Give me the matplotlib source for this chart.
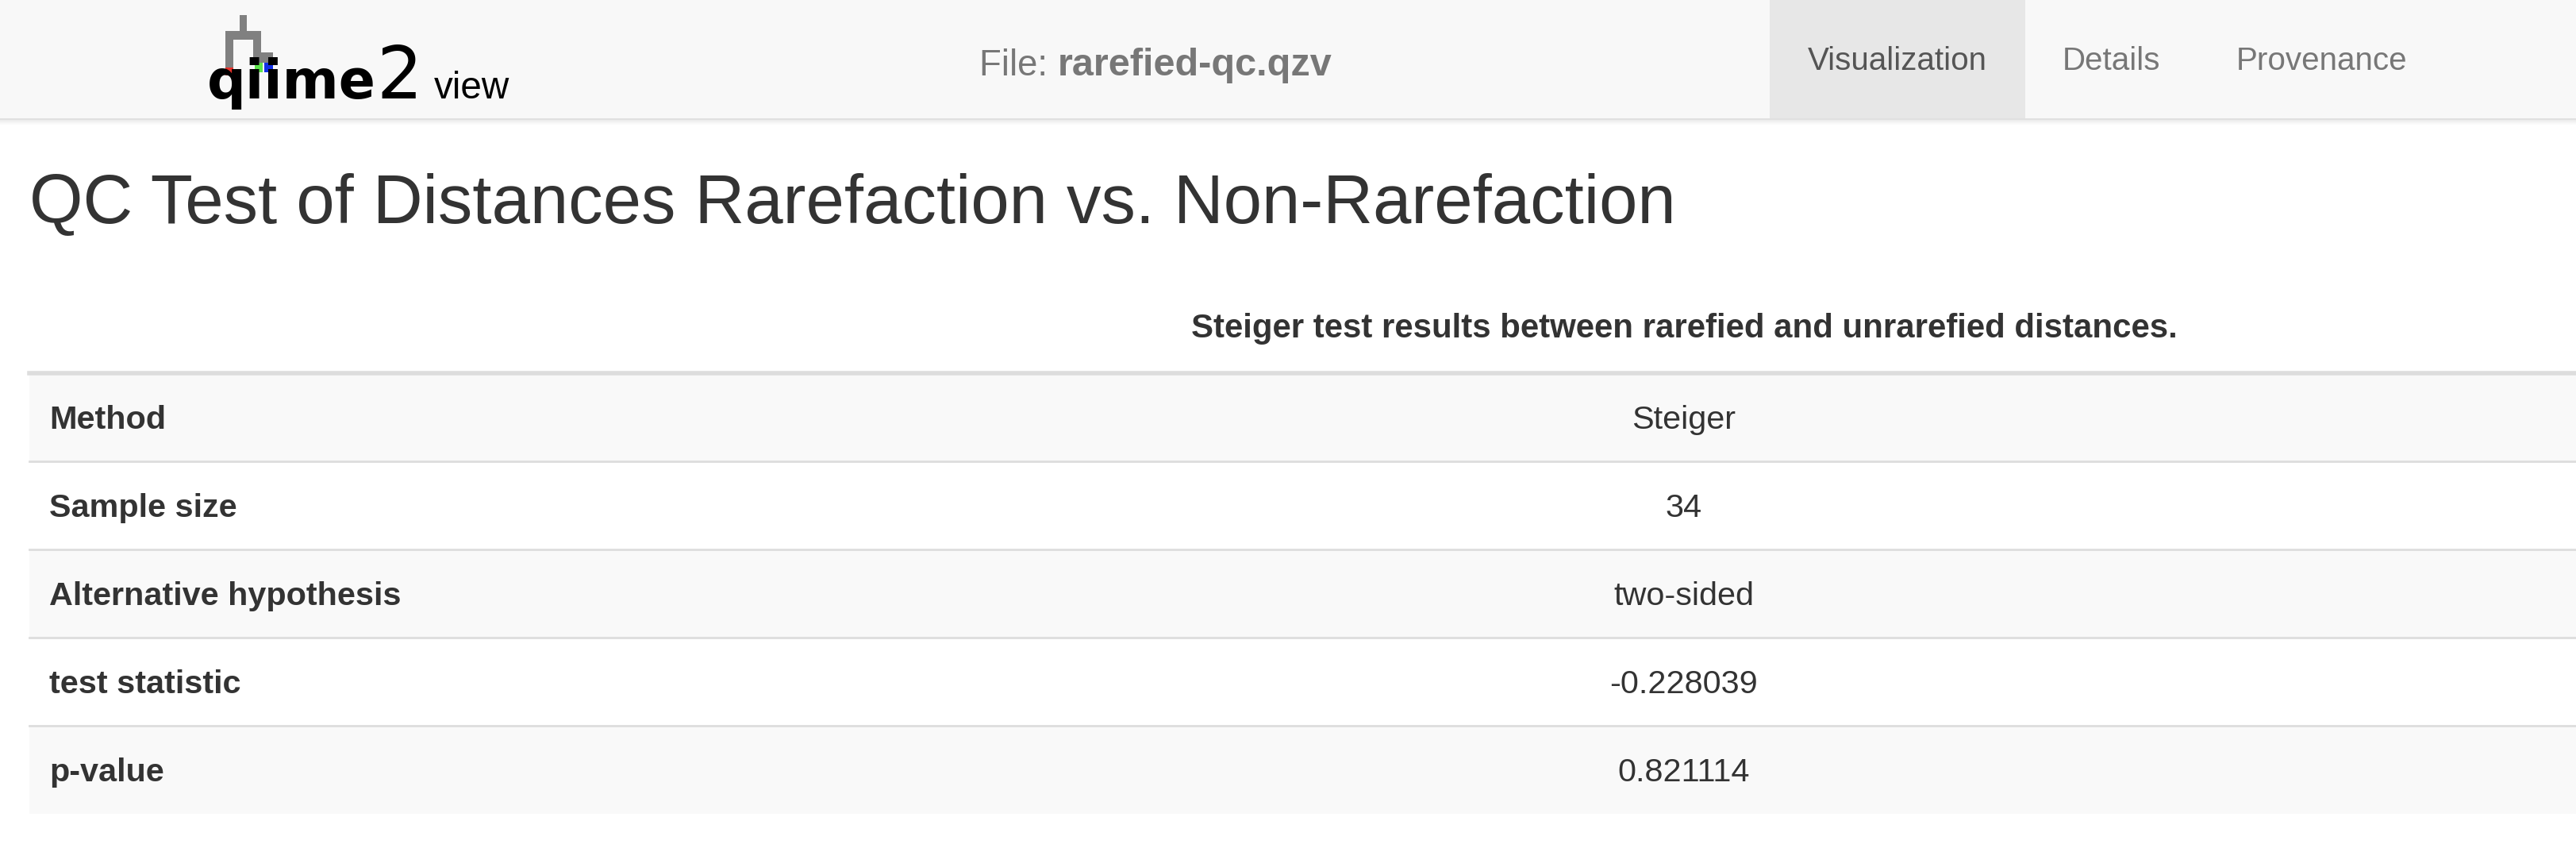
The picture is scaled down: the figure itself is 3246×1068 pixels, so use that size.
import matplotlib
matplotlib.use("Agg")
import matplotlib.pyplot as plt
from matplotlib.patches import Rectangle

plt.rcParams['font.family'] = ['Liberation Sans', 'DejaVu Sans']

title = "QC Test of Distances Rarefaction vs. Non-Rarefaction"
caption = "Steiger test results between rarefied and unrarefied distances."
row_labels = ["Method", "Sample size", "Alternative hypothesis", "test statistic", "p-value"]
row_values = ["Steiger", "34", "two-sided", "-0.228039", "0.821114"]
tabs = ["Visualization", "Details", "Provenance"]
file_name = "rarefied-qc.qzv"

W, H = 1568, 516
S = 3246 / W
def pt(d):  # displayed px -> points at dpi 100
    return d * S * 0.72

fig = plt.figure(figsize=(32.46, 10.68), dpi=100)
ax = fig.add_axes([0, 0, 1, 1])
ax.set_xlim(0, W); ax.set_ylim(H, 0); ax.axis('off')
fig.patch.set_facecolor('white')

# header
for i, a in enumerate([0.12, 0.07, 0.04, 0.02]):
    ax.add_patch(Rectangle((0, 72 + i), W, 1, color='black', alpha=a, lw=0))
ax.add_patch(Rectangle((0, 0), W, 72, color='#f8f8f8', lw=0))
ax.add_patch(Rectangle((1077, 0), 156, 72, color='#e7e7e7', lw=0))
tab_x = [1155, 1285, 1413]
for t, x in zip(tabs, tab_x):
    ax.text(x, 37, t, ha='center', va='center', fontsize=pt(19.5),
            color='#555555' if t == 'Visualization' else '#777777')
ax.text(596, 40, "File: ", ha='left', va='center', fontsize=pt(22), color='#777777')
ax.text(644, 40, file_name, ha='left', va='center', fontsize=pt(23.5), color='#777777', fontweight='bold')

# logo
g = '#808080'
ax.add_patch(Rectangle((146, 9), 4, 12, color=g, lw=0))
ax.add_patch(Rectangle((137, 19), 22, 5, color=g, lw=0))
ax.add_patch(Rectangle((137, 19), 5, 22, color=g, lw=0))
ax.add_patch(Rectangle((154, 19), 5, 14, color=g, lw=0))
ax.add_patch(Rectangle((154, 32), 12, 6, color=g, lw=0))
ax.add_patch(Rectangle((137, 41), 5, 5, color='#e8312a', lw=0))
ax.add_patch(Rectangle((155, 38), 5, 6, color='#5de34a', lw=0))
ax.add_patch(Rectangle((161, 38), 5, 6, color='#1230e8', lw=0))
ax.text(126, 60, "qiime", ha='left', va='baseline', fontsize=pt(33), color='black',
        family='DejaVu Sans', fontweight='bold')
ax.text(229, 60, "2", ha='left', va='baseline', fontsize=pt(44), color='black', family='DejaVu Sans')
ax.text(264, 60, "view", ha='left', va='baseline', fontsize=pt(23), color='black')

# title
ax.text(18, 125, title, ha='left', va='center', fontsize=pt(42), color='#333333')
ax.text(1025, 200, caption, ha='center', va='center', fontsize=pt(20.3), color='#333333', fontweight='bold')

# table
top, rh = 227, 53.6
for i, (lab, val) in enumerate(zip(row_labels, row_values)):
    y0 = top + i * rh
    if i % 2 == 0:
        ax.add_patch(Rectangle((18, y0), W - 18, rh, color='#f9f9f9', lw=0))
    ax.plot([18, W], [y0, y0], color='#dddddd', lw=4 if i == 0 else 2)
    ax.text(30, y0 + rh / 2 + 2, lab, ha='left', va='center', fontsize=pt(20), color='#333333', fontweight='bold')
    ax.text(1025, y0 + rh / 2 + 2, val, ha='center', va='center', fontsize=pt(20), color='#333333')

fig.savefig("out.png", dpi=100)
